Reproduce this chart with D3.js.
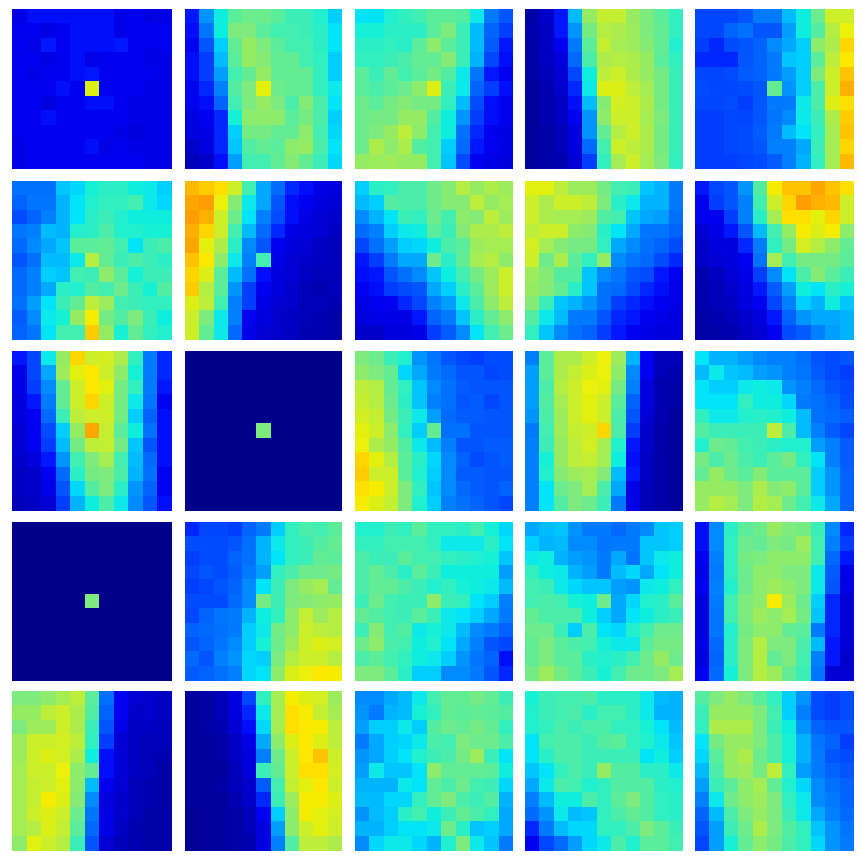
<!DOCTYPE html>
<html>
<head>
<meta charset="utf-8">
<script src="https://cdn.jsdelivr.net/npm/d3@7"></script>
<style>
  html, body { margin: 0; padding: 0; background: #fff; }
  svg { display: block; }
</style>
</head>
<body>
<div class="canvas"></div>
<script>
// values on a 0-100 scale
const p00 = [[10,12,12,12,12,12,12,10,11,9,10],[11,11,10,11,12,12,12,10,11,11,11],[11,10,13,11,12,12,12,13,11,11,11],[11,11,10,11,12,10,11,11,11,10,10],[11,10,11,11,12,13,11,11,11,11,10],[11,11,11,12,11,62,11,11,11,10,10],[11,11,9,11,11,12,12,11,10,10,10],[11,11,12,11,11,11,11,11,10,10,10],[11,11,11,11,11,11,11,10,9,10,10],[10,11,11,11,11,12,10,11,10,10,10],[10,11,11,11,11,11,11,11,11,10,10]];
const p01 = [[13,27,37,46,48,48,46,42,42,39,33],[12,23,37,50,50,46,43,43,42,40,35],[11,18,33,47,53,50,46,43,43,40,35],[12,15,31,46,53,51,47,47,43,41,33],[12,15,28,43,47,53,47,47,47,41,33],[11,14,25,45,50,63,48,47,47,41,36],[11,12,20,43,50,53,50,44,51,44,35],[9,11,14,38,52,52,52,46,49,44,33],[9,10,14,33,49,49,47,47,52,43,34],[7,9,14,32,45,47,46,52,53,44,35],[5,7,12,28,43,43,47,51,47,42,34]];
const p02 = [[35,35,39,41,43,46,46,45,36,24,18],[38,38,40,40,40,46,50,42,31,20,15],[40,40,41,40,46,52,46,42,31,19,13],[41,41,42,44,47,47,51,42,30,16,12],[46,42,47,43,46,49,45,36,23,13,11],[46,44,46,48,52,62,42,36,20,15,12],[48,46,49,51,49,49,41,31,17,12,11],[48,49,49,53,53,45,37,27,15,12,11],[48,50,53,58,52,43,37,22,14,11,10],[48,56,52,56,45,43,33,21,13,11,10],[53,54,54,53,53,43,32,17,11,10,9]];
const p03 = [[3,7,13,31,53,59,59,53,50,46,41],[4,6,13,27,49,57,56,54,50,47,41],[3,6,11,24,46,59,55,54,51,47,39],[3,6,9,21,44,56,57,56,53,46,41],[3,5,8,16,37,58,60,56,53,49,42],[2,4,7,14,36,62,62,58,55,49,42],[2,4,6,12,31,51,61,60,56,49,42],[2,4,6,11,27,52,60,60,55,50,42],[2,3,5,9,27,47,57,60,56,49,42],[2,3,5,9,21,43,60,58,56,49,42],[2,3,4,8,15,41,55,60,55,50,41]];
const p04 = [[16,16,16,18,24,24,31,37,48,60,60],[16,16,20,22,18,18,28,37,45,57,64],[15,14,17,18,20,26,29,33,52,56,68],[14,14,14,18,20,24,32,33,46,58,66],[16,16,17,19,20,24,28,33,50,60,70],[17,16,16,17,18,47,27,33,44,60,72],[16,16,17,15,18,24,24,36,44,62,67],[15,15,16,16,18,23,26,36,42,56,69],[15,15,16,17,19,24,31,35,41,55,70],[15,15,16,17,18,25,25,29,42,55,68],[15,15,15,16,17,19,25,30,41,55,71]];

const p10 = [[22,22,22,32,34,38,40,40,37,36,33],[20,23,23,30,35,39,41,41,43,36,34],[17,20,25,30,35,40,42,39,37,37,37],[23,25,31,30,39,40,44,39,39,38,38],[21,26,29,32,46,46,47,43,35,42,44],[18,22,31,31,36,57,47,42,44,42,40],[21,25,33,32,43,42,52,46,38,42,42],[21,25,29,40,39,45,43,48,42,38,45],[22,28,35,42,47,58,54,43,42,41,41],[19,26,36,38,53,65,49,45,50,42,37],[20,23,35,43,43,69,53,38,47,41,39]];
const p11 = [[71,69,67,60,43,29,21,14,12,10,9],[73,74,64,51,36,29,18,12,11,9,8],[74,72,60,48,35,25,17,12,10,8,7],[72,68,60,43,31,21,14,10,9,8,6],[73,63,56,40,26,18,11,9,8,6,5],[70,66,52,36,25,43,10,8,7,6,5],[68,62,46,31,22,12,9,8,6,5,5],[69,57,46,27,15,11,9,7,5,4,5],[62,58,43,25,15,10,8,7,5,5,4],[60,50,36,25,11,9,7,6,5,4,3],[60,47,36,21,10,8,7,6,4,4,3]];
const p12 = [[33,40,41,44,44,48,51,57,53,56,54],[31,33,45,44,44,48,51,51,58,53,55],[26,30,35,42,41,48,43,52,51,58,54],[21,25,33,36,37,46,42,51,56,56,58],[16,22,28,33,34,37,44,46,54,55,55],[13,15,24,29,29,48,40,47,55,57,52],[12,13,18,22,26,32,37,43,49,54,60],[11,12,15,17,18,29,33,40,46,54,60],[10,11,11,14,16,25,28,36,44,52,58],[9,10,10,10,13,20,24,32,40,47,52],[7,7,9,9,10,15,19,26,35,43,48]];
const p13 = [[63,63,58,54,54,49,43,42,32,30,24],[60,56,60,60,58,50,40,36,30,30,24],[60,56,55,55,54,45,43,32,29,28,22],[58,60,60,52,51,40,35,29,23,23,20],[61,55,51,49,49,41,29,26,22,20,17],[60,48,56,46,41,53,26,23,21,17,14],[54,51,45,45,32,26,23,18,17,13,11],[53,51,47,40,32,22,21,17,14,12,10],[51,42,32,30,27,22,15,14,12,11,10],[45,36,31,24,24,18,14,13,11,10,9],[41,32,26,22,20,15,13,11,10,9,9]];
const p14 = [[13,16,18,27,45,65,70,70,73,70,67],[11,15,18,25,43,60,68,74,72,71,60],[11,11,15,25,40,55,67,67,63,68,60],[8,10,13,18,31,43,53,65,62,65,52],[7,9,9,14,24,41,49,61,57,52,47],[7,8,9,11,22,55,43,49,49,49,46],[4,6,8,10,15,26,35,44,51,46,42],[4,5,7,9,13,19,28,37,35,40,38],[4,5,6,9,11,16,25,33,30,37,32],[3,4,5,7,9,13,20,27,29,29,30],[3,3,4,6,8,11,17,19,25,28,30]];

const p20 = [[13,16,36,53,68,60,61,56,41,24,14],[10,16,29,54,63,66,60,52,38,24,14],[10,15,26,47,60,66,63,49,41,24,13],[9,13,24,47,60,68,60,49,36,23,11],[9,11,21,42,58,60,60,49,33,20,12],[8,11,17,33,53,73,59,46,37,22,12],[8,11,15,31,49,58,59,49,32,18,12],[7,9,13,27,43,50,55,43,31,21,12],[6,7,11,21,40,49,50,44,30,22,11],[6,7,10,18,34,45,50,40,27,20,11],[5,6,8,15,30,37,44,36,26,18,12]];
const p21 = [[0,0,0,0,0,0,0,0,0,0,0],[0,0,0,0,0,0,0,0,0,0,0],[0,0,0,0,0,0,0,0,0,0,0],[0,0,0,0,0,0,0,0,0,0,0],[0,0,0,0,0,0,0,0,0,0,0],[0,0,0,0,0,50,0,0,0,0,0],[0,0,0,0,0,0,0,0,0,0,0],[0,0,0,0,0,0,0,0,0,0,0],[0,0,0,0,0,0,0,0,0,0,0],[0,0,0,0,0,0,0,0,0,0,0],[0,0,0,0,0,0,0,0,0,0,0]];
const p22 = [[50,48,42,39,27,23,18,16,15,17,17],[52,50,47,34,29,24,21,18,18,16,17],[58,57,47,41,32,26,22,19,18,18,18],[59,57,48,40,32,25,22,18,19,16,18],[61,59,49,42,36,28,21,19,19,18,18],[63,60,52,41,33,47,22,22,18,18,18],[64,56,53,45,36,31,25,18,18,19,19],[68,63,57,46,40,34,26,20,17,18,19],[69,60,60,46,39,33,26,19,19,18,18],[67,65,60,50,41,32,26,21,19,18,20],[65,62,59,50,39,33,25,22,20,18,16]];
const p23 = [[25,46,56,56,60,64,54,30,11,5,5],[28,46,56,59,62,64,52,26,11,5,4],[28,44,57,60,64,63,49,25,9,4,3],[28,45,55,60,63,60,46,20,9,4,3],[27,44,54,60,63,60,44,18,8,4,2],[24,43,54,59,60,68,44,15,7,3,2],[25,42,53,58,61,55,39,13,7,3,2],[25,38,53,58,59,55,37,12,6,3,2],[25,39,51,54,55,51,31,13,6,3,2],[25,35,48,50,55,44,29,10,5,3,2],[25,35,45,50,48,42,24,10,5,3,2]];
const p24 = [[35,30,30,28,26,25,25,22,18,17,18],[31,36,32,31,28,27,25,23,19,17,15],[35,33,33,36,37,36,27,25,21,18,16],[35,35,35,41,37,37,34,24,22,20,17],[41,36,36,39,40,39,37,31,22,21,19],[45,42,42,42,42,58,44,31,25,19,16],[39,48,47,43,42,40,39,39,28,25,19],[49,44,48,44,42,46,49,41,35,25,19],[47,53,48,46,51,46,46,46,33,27,20],[53,53,53,50,56,51,52,46,33,27,20],[53,57,55,50,57,55,48,43,36,29,20]];

const p30 = [[0,0,0,0,0,0,0,0,0,0,0],[0,0,0,0,0,0,0,0,0,0,0],[0,0,0,0,0,0,0,0,0,0,0],[0,0,0,0,0,0,0,0,0,0,0],[0,0,0,0,0,0,0,0,0,0,0],[0,0,0,0,0,50,0,0,0,0,0],[0,0,0,0,0,0,0,0,0,0,0],[0,0,0,0,0,0,0,0,0,0,0],[0,0,0,0,0,0,0,0,0,0,0],[0,0,0,0,0,0,0,0,0,0,0],[0,0,0,0,0,0,0,0,0,0,0]];
const p31 = [[14,16,16,15,20,24,33,41,44,43,46],[17,17,17,18,22,30,36,41,42,45,47],[15,17,17,20,22,30,35,41,42,47,46],[16,18,17,19,24,28,41,44,48,48,49],[15,16,18,20,26,35,42,50,53,55,47],[17,17,17,21,26,49,42,50,51,52,53],[16,20,23,24,30,37,41,52,59,54,57],[20,21,22,24,33,36,49,52,60,58,57],[18,20,23,26,33,38,48,54,60,62,61],[21,18,25,27,34,33,50,57,60,60,57],[19,20,22,25,34,35,52,62,64,66,65]];
const p32 = [[39,39,42,41,46,41,41,40,43,38,34],[41,41,43,43,43,41,36,36,36,40,35],[44,42,42,46,43,43,41,40,39,38,32],[44,47,44,40,46,42,37,37,37,37,28],[44,47,47,44,42,39,41,38,37,36,31],[42,48,43,42,42,52,42,41,35,33,25],[47,45,43,42,46,42,36,35,33,29,24],[42,51,43,45,36,38,36,31,26,24,20],[48,52,44,43,37,39,35,29,25,18,16],[44,46,43,41,37,36,33,27,23,20,12],[50,50,46,40,33,33,26,26,24,18,14]];
const p33 = [[29,31,32,27,24,24,21,24,26,32,33],[33,30,31,26,26,23,24,24,32,32,33],[36,37,30,28,27,24,29,23,32,36,37],[41,37,36,30,28,24,31,34,29,35,37],[43,42,36,34,32,32,28,27,36,37,41],[43,44,43,38,37,48,29,34,39,40,46],[47,44,44,44,37,33,29,35,37,40,42],[48,48,42,33,44,35,34,39,43,48,48],[47,50,46,44,43,38,36,36,46,49,49],[47,50,46,46,40,39,40,43,48,53,48],[49,54,49,46,42,38,43,48,48,50,55]];
const p34 = [[12,26,40,46,48,53,50,49,42,26,14],[12,26,41,48,47,50,49,54,43,25,15],[11,25,41,49,50,52,52,52,43,21,13],[10,24,41,48,52,52,50,50,36,19,10],[11,25,39,48,52,54,52,50,36,18,10],[9,24,43,50,52,65,54,48,33,14,8],[9,23,43,50,54,52,55,49,32,14,8],[9,23,39,49,52,52,47,46,24,14,8],[10,21,40,50,57,50,50,44,31,13,8],[9,20,40,50,57,47,50,43,25,13,7],[11,21,38,50,57,54,47,42,23,8,8]];

const p40 = [[50,50,52,55,58,46,22,11,8,7,6],[53,53,58,60,56,45,20,11,7,7,6],[50,54,54,60,56,42,18,10,6,6,5],[54,60,60,61,58,41,15,8,6,5,5],[54,60,62,61,56,37,12,8,6,5,4],[55,60,60,64,52,47,12,8,6,5,3],[55,59,60,63,52,31,11,8,5,4,3],[55,59,65,62,51,26,9,7,5,4,3],[55,60,62,60,48,23,10,7,5,3,3],[55,57,62,59,46,21,10,6,4,3,3],[52,63,60,57,42,18,8,5,4,3,3]];
const p41 = [[2,3,5,9,16,41,55,65,62,61,54],[2,3,5,9,14,36,55,67,65,59,55],[2,3,4,8,12,34,55,67,66,65,58],[2,2,3,6,10,29,52,62,66,62,58],[2,2,3,6,9,25,48,60,66,70,60],[2,2,2,5,9,42,47,60,67,67,61],[2,2,3,5,7,19,43,59,63,66,60],[2,2,2,4,7,14,42,54,65,65,62],[1,2,2,3,5,11,33,52,65,63,61],[1,2,2,3,5,9,28,52,60,63,60],[1,2,2,3,4,9,25,45,58,58,56]];
const p42 = [[26,26,29,31,36,43,47,47,49,47,42],[27,24,30,31,38,41,47,46,47,46,45],[28,33,33,36,33,45,48,47,49,47,41],[24,29,33,34,36,44,43,50,48,48,44],[27,29,33,35,39,42,44,49,54,42,35],[28,36,32,32,35,52,47,47,47,46,37],[30,30,30,36,35,47,44,48,43,42,34],[31,31,34,34,41,47,50,44,42,45,30],[27,31,33,40,43,37,42,47,44,41,29],[30,30,33,35,35,36,48,40,32,33,29],[26,34,36,36,34,30,39,50,36,32,24]];
const p43 = [[38,42,43,43,44,40,40,40,36,31,30],[39,42,43,44,40,43,43,40,36,30,30],[39,41,44,42,44,44,41,41,38,35,31],[35,43,44,44,42,45,46,41,39,36,32],[35,40,44,44,42,42,42,42,35,37,33],[32,35,41,44,42,53,45,45,40,40,36],[29,36,44,43,39,41,45,45,45,40,39],[25,31,37,37,44,41,46,50,45,41,40],[21,27,36,31,32,41,44,47,45,41,40],[14,24,31,34,34,41,41,44,50,46,42],[11,16,21,28,34,36,44,39,46,46,43]];
const p44 = [[45,50,53,50,46,41,33,27,17,15,17],[42,53,53,53,50,43,33,25,17,15,17],[41,56,56,56,50,42,37,27,20,18,18],[35,49,53,53,50,44,38,30,23,20,15],[34,46,53,56,48,44,38,30,24,18,17],[31,44,53,54,49,58,41,28,24,20,18],[28,42,46,52,55,47,39,34,26,22,20],[25,36,48,52,54,50,41,36,26,24,20],[20,31,44,50,53,50,42,36,29,25,21],[18,28,42,48,56,50,45,41,32,27,23],[16,28,38,47,52,49,44,41,34,27,24]];

const panels = [
  p00, p01, p02, p03, p04,
  p10, p11, p12, p13, p14,
  p20, p21, p22, p23, p24,
  p30, p31, p32, p33, p34,
  p40, p41, p42, p43, p44,
];

const WIDTH = 861,
  HEIGHT = 860,
  COLS = 5,
  CELLS = 11;

// panel edges are not evenly spaced in the picture
const COL_EDGES = [[12, 172], [185, 342], [355, 513], [525, 683], [695, 854]],
  ROW_EDGES = [[9, 168], [181, 339], [351, 510], [522, 680], [691, 850]];

const cellIndexes = d3.range(CELLS);

function bandFor([start, end]) {
  return d3.scaleBand().domain(cellIndexes).range([0, end - start]);
}

// jet, stops calibrated to how the values were read
const color = d3
  .scaleLinear()
  .domain([0, 11, 12.5, 15, 20, 25, 30, 34, 35, 37.5, 50, 64, 66, 89, 100])
  .range([
    "rgb(0,0,139)",
    "rgb(0,0,240)",
    "rgb(0,10,255)",
    "rgb(0,60,255)",
    "rgb(0,100,255)",
    "rgb(0,128,255)",
    "rgb(0,179,255)",
    "rgb(0,215,255)",
    "rgb(0,228,247)",
    "rgb(21,240,216)",
    "rgb(125,235,125)",
    "rgb(235,240,8)",
    "rgb(255,232,0)",
    "rgb(255,19,0)",
    "rgb(128,0,0)",
  ]);

const svg = d3
  .select(".canvas")
  .append("svg")
  .attr("width", WIDTH)
  .attr("height", HEIGHT);

// the picture is a resampled image, its cell edges are a little soft
svg
  .append("defs")
  .append("filter")
  .attr("id", "soft")
  .attr("x", "-2%")
  .attr("y", "-2%")
  .attr("width", "104%")
  .attr("height", "104%")
  .append("feGaussianBlur")
  .attr("stdDeviation", 0.6);

const panel = svg
  .selectAll("g.panel")
  .data(panels)
  .enter()
  .append("g")
  .attr("class", "panel")
  .attr("filter", "url(#soft)")
  .attr("transform", (d, i) => {
    const x = COL_EDGES[i % COLS][0];
    const y = ROW_EDGES[Math.floor(i / COLS)][0];
    return `translate(${x}, ${y})`;
  });

panel.each(function (d, i) {
  const cellX = bandFor(COL_EDGES[i % COLS]);
  const cellY = bandFor(ROW_EDGES[Math.floor(i / COLS)]);

  const rows = d3
    .select(this)
    .selectAll("g.row")
    .data(d)
    .enter()
    .append("g")
    .attr("class", "row")
    .attr("transform", (r, j) => `translate(0, ${cellY(j)})`);

  rows
    .selectAll("rect")
    .data((r) => r)
    .enter()
    .append("rect")
    .attr("x", (v, k) => cellX(k))
    .attr("width", (v, k) => cellX.bandwidth() + (k < CELLS - 1 ? 0.5 : 0))
    .attr("height", (v, k) => cellY.bandwidth() + 0.5)
    .attr("shape-rendering", "crispEdges")
    .attr("fill", (v) => color(v));
});
</script>
</body>
</html>
